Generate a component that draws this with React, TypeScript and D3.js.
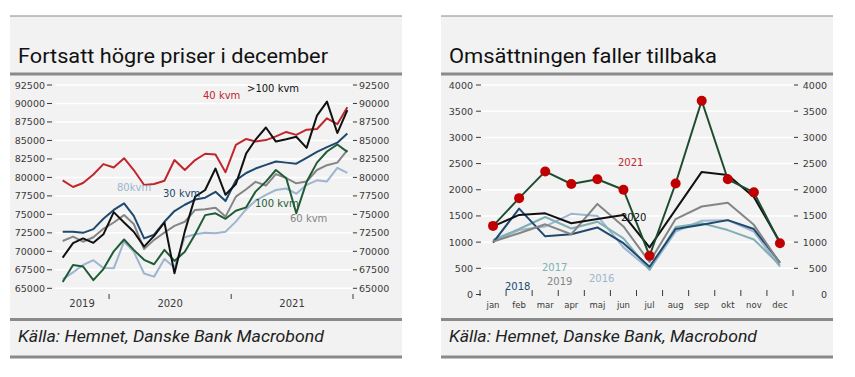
import React from "react";
import * as d3 from "d3";

// ---------- Left chart: prices ----------
const monthKeys = [
  "2019-08", "2019-09", "2019-10", "2019-11", "2019-12",
  "2020-01", "2020-02", "2020-03", "2020-04", "2020-05", "2020-06",
  "2020-07", "2020-08", "2020-09", "2020-10", "2020-11", "2020-12",
  "2021-01", "2021-02", "2021-03", "2021-04", "2021-05", "2021-06",
  "2021-07", "2021-08", "2021-09", "2021-10", "2021-11", "2021-12",
];
const kvm40 = [79600, 78700, 79250, 80400, 81800, 81350, 82600, 81000, 78980, 79100, 79550, 82350, 81000, 82350, 83200, 83100, 80700, 84400, 85200, 84850, 85050, 85550, 86150, 85750, 86450, 86550, 88000, 87200, 89500];
const kvmOver100 = [69150, 71100, 71750, 71150, 72300, 75300, 73900, 72650, 70640, 72100, 73900, 67030, 72700, 77400, 78300, 81200, 77650, 79100, 83250, 85100, 86750, 84850, 85150, 85500, 84000, 88350, 90250, 86000, 89100];
const kvm30 = [72650, 72650, 72500, 73000, 74400, 75600, 76500, 74800, 71750, 72250, 74000, 75450, 76300, 77000, 77250, 78050, 76800, 79600, 80600, 81200, 81700, 82150, 82000, 81850, 82650, 83450, 84100, 84700, 85950];
const kvm60 = [71400, 72000, 71300, 71900, 73050, 73900, 74900, 73700, 70300, 71550, 72550, 73450, 74000, 75600, 75700, 75900, 74700, 77400, 78400, 79400, 78900, 80450, 79900, 79200, 79450, 81000, 81650, 82000, 83700];
const kvm100 = [65850, 68150, 67950, 66100, 67600, 70000, 71600, 70200, 68850, 68250, 70200, 68700, 69950, 72300, 74900, 75150, 74400, 75500, 75950, 78080, 79430, 81000, 79880, 75150, 79400, 82000, 83500, 84450, 83450];
const kvm80 = [66200, 67150, 68150, 68800, 67750, 67700, 71300, 69960, 67000, 66580, 68950, 67800, 71900, 72300, 72500, 72450, 72650, 74020, 75700, 76850, 77650, 78300, 78500, 77800, 79000, 79600, 79450, 81300, 80600];
const priceTicks = [65000, 67500, 70000, 72500, 75000, 77500, 80000, 82500, 85000, 87500, 90000, 92500];
const yearLabels = ["2019", "2020", "2021"];

// ---------- Right chart: turnover ----------
const monthNames = ["jan", "feb", "mar", "apr", "maj", "jun", "jul", "aug", "sep", "okt", "nov", "dec"];
const y2016 = [1010, 1230, 1300, 1540, 1500, 900, 480, 1200, 1410, 1420, 1200, 530];
const y2017 = [1040, 1250, 1480, 1260, 1390, 1070, 470, 1290, 1360, 1230, 1050, 560];
const y2018 = [990, 1640, 1110, 1150, 1280, 980, 530, 1250, 1330, 1420, 1250, 610];
const y2019 = [1010, 1170, 1340, 1150, 1730, 1300, 620, 1440, 1680, 1750, 1330, 600];
const y2020 = [1300, 1520, 1550, 1360, 1440, 1520, 900, 1620, 2340, 2280, 1860, 1000];
const y2021 = [1310, 1840, 2350, 2110, 2200, 2000, 740, 2120, 3700, 2200, 1950, 980];
const volTicks = [0, 500, 1000, 1500, 2000, 2500, 3000, 3500, 4000];

const C = {
  red: "#c0272d",
  black: "#111111",
  navy: "#1d4a6e",
  gray: "#858585",
  green: "#1f5c36",
  lightBlue: "#9db5d0",
  teal: "#80b0b3",
  darkGreen: "#1e4d2e",
  dot: "#c00000",
  bg: "#f2f2f2",
  bar: "#8a8a8a",
  tick: "#3a3a3a",
};

const SMALL = "'DejaVu Sans', sans-serif";
const TITLE = "Roboto, 'DejaVu Sans', sans-serif";

function Frame({ x, w, title, titleLen, source, sourceLen }: any) {
  return (
    <g>
      <rect x={x} y={16} width={w} height={342} fill={C.bg} />
      <rect x={x} y={15.5} width={w} height={1} fill={C.bar} />
      <rect x={x} y={72.5} width={w} height={3} fill={C.bar} />
      <rect x={x} y={318} width={w} height={3} fill={C.bar} />
      <rect x={x} y={355.5} width={w} height={3} fill={C.bar} />
      <text x={x + 8} y={63} fontFamily={TITLE} fontSize={19.5} fill="#111" textLength={titleLen} lengthAdjust="spacingAndGlyphs">
        {title}
      </text>
      <text x={x + 8} y={342} fontFamily={TITLE} fontStyle="italic" fontSize={16} fill="#222" textLength={sourceLen} lengthAdjust="spacingAndGlyphs">
        {source}
      </text>
    </g>
  );
}

function LeftChart() {
  const dates = monthKeys.map((k) => {
    const [yy, mm] = k.split("-").map(Number);
    return new Date(yy, mm - 1, 15);
  });
  const x = d3.scaleTime().domain([new Date(2019, 6, 23), new Date(2022, 0, 1)]).range([55, 353]);
  const y = d3.scaleLinear().domain([65000, 92500]).range([288.3, 85]);
  const line = d3.line<number>().x((_, i) => x(dates[i])).y((d) => y(d));
  const series = [
    { v: kvm80, c: C.lightBlue },
    { v: kvm60, c: C.gray },
    { v: kvm100, c: C.green },
    { v: kvm30, c: C.navy },
    { v: kvm40, c: C.red },
    { v: kvmOver100, c: C.black },
  ];
  const yearStarts = yearLabels.map((s) => new Date(+s, 0, 1));
  const yearEnds = yearLabels.map((s) => new Date(+s + 1, 0, 1));
  const [d0, d1] = x.domain();
  return (
    <g>
      {priceTicks.map((t) => (
        <g key={t}>
          <line x1={55} x2={352} y1={y(t)} y2={y(t)} stroke="#fff" strokeWidth={1.5} />
          <line x1={47} x2={52} y1={y(t)} y2={y(t)} stroke={C.tick} strokeWidth={1} />
          <line x1={353} x2={357} y1={y(t)} y2={y(t)} stroke={C.tick} strokeWidth={1} />
          <text x={45} y={y(t) + 3.5} textAnchor="end" fontFamily={SMALL} fontSize={9.5} fill={C.tick}>{t}</text>
          <text x={359} y={y(t) + 3.5} fontFamily={SMALL} fontSize={9.5} fill={C.tick}>{t}</text>
        </g>
      ))}
      {yearEnds.map((d, i) => (
        <line key={i} x1={x(d)} x2={x(d)} y1={294} y2={299} stroke={C.tick} strokeWidth={1} />
      ))}
      {yearLabels.map((s, i) => {
        const a = x(yearStarts[i] < d0 ? d0 : yearStarts[i]);
        const b = x(yearEnds[i] > d1 ? d1 : yearEnds[i]);
        return (
          <text key={s} x={(a + b) / 2} y={307} textAnchor="middle" fontFamily={SMALL} fontSize={10} fill={C.tick}>{s}</text>
        );
      })}
      {series.map((s, i) => (
        <path key={i} d={line(s.v) || ""} fill="none" stroke={s.c} strokeWidth={2} strokeLinejoin="round" />
      ))}
      <text x={203} y={99} fontFamily={SMALL} fontSize={10} fill={C.red}>40 kvm</text>
      <text x={247} y={92} fontFamily={SMALL} fontSize={10} fill={C.black}>&gt;100 kvm</text>
      <text x={117} y={191} fontFamily={SMALL} fontSize={10} fill={C.lightBlue}>80kvm</text>
      <text x={163} y={197} fontFamily={SMALL} fontSize={10} fill={C.navy}>30 kvm</text>
      <text x={255} y={207} fontFamily={SMALL} fontSize={10} fill={C.green}>100 kvm</text>
      <text x={290} y={222} fontFamily={SMALL} fontSize={10} fill={C.gray}>60 kvm</text>
    </g>
  );
}

function RightChart() {
  const x = d3.scalePoint<string>().domain(monthNames).range([480, 793]).padding(0.5);
  const step = x.step();
  const y = d3.scaleLinear().domain([0, 4000]).range([294.5, 85]);
  const line = d3.line<number>().x((_, i) => x(monthNames[i]) as number).y((d) => y(d));
  const bounds = monthNames.map((m) => (x(m) as number) - step / 2).concat([(x(monthNames[11]) as number) + step / 2]);
  const series = [
    { v: y2016, c: C.lightBlue },
    { v: y2017, c: C.teal },
    { v: y2018, c: C.navy },
    { v: y2019, c: C.gray },
    { v: y2020, c: C.black },
    { v: y2021, c: C.darkGreen },
  ];
  return (
    <g>
      {volTicks.map((t) => (
        <g key={t}>
          {t > 0 && <line x1={480} x2={793} y1={y(t)} y2={y(t)} stroke="#fff" strokeWidth={1.5} />}
          <line x1={476} x2={481} y1={y(t)} y2={y(t)} stroke={C.tick} strokeWidth={1} />
          {t > 0 && <line x1={794} x2={798} y1={y(t)} y2={y(t)} stroke={C.tick} strokeWidth={1} />}
          <text x={473} y={y(t) + 3.5} textAnchor="end" fontFamily={SMALL} fontSize={9.5} fill={C.tick}>{t}</text>
          <text x={827} y={y(t) + 3.5} textAnchor="end" fontFamily={SMALL} fontSize={9.5} fill={C.tick}>{t}</text>
        </g>
      ))}
      {bounds.map((b, i) => (
        <line key={i} x1={b} x2={b} y1={290} y2={296} stroke={C.tick} strokeWidth={1} />
      ))}
      {monthNames.map((m) => (
        <text key={m} x={x(m) as number} y={308} textAnchor="middle" fontFamily={SMALL} fontSize={8.5} fill={C.tick}>{m}</text>
      ))}
      {series.map((s, i) => (
        <path key={i} d={line(s.v) || ""} fill="none" stroke={s.c} strokeWidth={2} strokeLinejoin="round" />
      ))}
      {y2021.map((v, i) => (
        <circle key={i} cx={x(monthNames[i]) as number} cy={y(v)} r={5} fill={C.dot} />
      ))}
      <text x={618} y={166} fontFamily={SMALL} fontSize={10} fill={C.red}>2021</text>
      <text x={621} y={221} fontFamily={SMALL} fontSize={10} fill={C.black}>2020</text>
      <text x={542} y={271} fontFamily={SMALL} fontSize={10} fill={C.teal}>2017</text>
      <text x={505} y={290} fontFamily={SMALL} fontSize={10} fill={C.navy}>2018</text>
      <text x={547} y={285} fontFamily={SMALL} fontSize={10} fill={C.gray}>2019</text>
      <text x={589} y={282} fontFamily={SMALL} fontSize={10} fill={C.lightBlue}>2016</text>
    </g>
  );
}

export default function App() {
  return (
    <svg width={855} height={377} style={{ position: "absolute", left: 0, top: 0, background: "#fff" }}>
      <rect x={0} y={0} width={855} height={377} fill="#fff" />
      <Frame x={10} w={392} title="Fortsatt högre priser i december" titleLen={310} source="Källa: Hemnet, Danske Bank Macrobond" sourceLen={306} />
      <Frame x={441} w={392} title="Omsättningen faller tillbaka" titleLen={268} source="Källa: Hemnet, Danske Bank, Macrobond" sourceLen={308} />
      <LeftChart />
      <RightChart />
    </svg>
  );
}
